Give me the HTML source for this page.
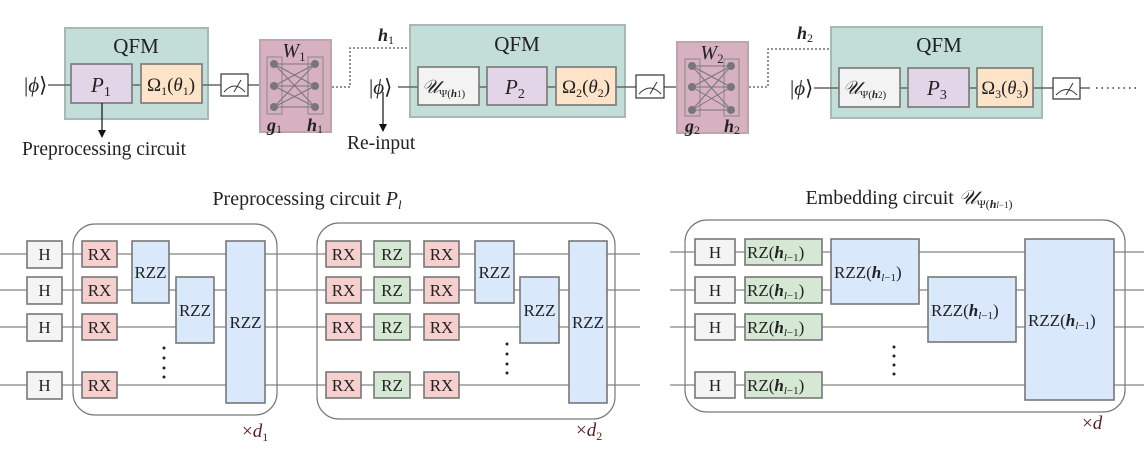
<!DOCTYPE html>
<html><head><meta charset="utf-8"><style>
html,body{margin:0;padding:0;background:#fff;}
svg{display:block;}
text{font-family:"Liberation Serif","DejaVu Serif",serif;fill:#222;}
.w{stroke:#999;stroke-width:1.6;fill:none;}
.g{stroke:#777;stroke-width:1.6;}
</style></head><body>
<svg width="1144" height="458" viewBox="0 0 1144 458" xmlns="http://www.w3.org/2000/svg">
<defs>
<marker id="ar" markerWidth="8" markerHeight="8" refX="7" refY="4" orient="auto" markerUnits="userSpaceOnUse"><path d="M0,0 L8,4 L0,8 z" fill="#111"/></marker>
<marker id="ar2" markerWidth="8" markerHeight="8" refX="7" refY="4" orient="auto" markerUnits="userSpaceOnUse"><path d="M0,0 L8,4 L0,8 z" fill="#5f7f7a"/></marker>
</defs>

<!-- stage 1 -->
<rect x="65" y="28" width="143" height="91" fill="#c3ddd9" stroke="#a8b8b5" stroke-width="2"/>
<text x="136" y="53" font-size="21" text-anchor="middle">QFM</text>
<line x1="48" y1="85" x2="260" y2="85" stroke="#666" stroke-width="1.6"/>
<text x="24" y="92" font-size="21">|<tspan font-style="italic">ϕ</tspan>⟩</text>
<rect x="71" y="64" width="61" height="39" fill="#e2d5e8" class="g"/>
<text x="91" y="92" font-size="21" font-style="italic">P<tspan font-size="14" font-style="normal" dy="4">1</tspan></text>
<rect x="141" y="64" width="61" height="39" fill="#fde3c8" class="g"/>
<text x="171" y="91" font-size="19" text-anchor="middle">Ω<tspan font-size="12" dy="4">1</tspan><tspan dy="-4">(</tspan><tspan font-style="italic">θ</tspan><tspan font-size="12" dy="4">1</tspan><tspan dy="-4">)</tspan></text>
<rect x="221" y="74" width="27" height="22" fill="#fff" stroke="#333" stroke-width="1.2"/>
<path d="M224,92 Q234.5,80 245,92" fill="none" stroke="#333" stroke-width="1"/>
<line x1="234" y1="92" x2="241" y2="80" stroke="#333" stroke-width="1"/>
<line x1="102" y1="103" x2="102" y2="137" stroke="#111" stroke-width="1.2" marker-end="url(#ar)"/>
<text x="22" y="155" font-size="19.5">Preprocessing circuit</text>

<!-- W1 -->
<rect x="260" y="40" width="71" height="92" fill="#d8b1c1" stroke="#bda5b0" stroke-width="2"/>
<rect x="267" y="57" width="15" height="57" fill="none" stroke="#888" stroke-width="1"/>
<rect x="308" y="57" width="15" height="57" fill="none" stroke="#888" stroke-width="1"/>
<g stroke="#777" stroke-width="1">
<line x1="274" y1="64" x2="315" y2="64"/><line x1="274" y1="64" x2="315" y2="86"/><line x1="274" y1="64" x2="315" y2="107"/>
<line x1="274" y1="86" x2="315" y2="64"/><line x1="274" y1="86" x2="315" y2="86"/><line x1="274" y1="86" x2="315" y2="107"/>
<line x1="274" y1="107" x2="315" y2="64"/><line x1="274" y1="107" x2="315" y2="86"/><line x1="274" y1="107" x2="315" y2="107"/>
</g>
<g fill="#777"><circle cx="274" cy="64" r="4"/><circle cx="274" cy="86" r="4"/><circle cx="274" cy="107" r="4"/><circle cx="315" cy="64" r="4"/><circle cx="315" cy="86" r="4"/><circle cx="315" cy="107" r="4"/></g>
<text x="294" y="57" font-size="20" font-style="italic" text-anchor="middle">W<tspan font-size="13" font-style="normal" dy="4">1</tspan></text>
<text x="267" y="131" font-size="18" font-weight="bold" font-style="italic">g<tspan font-size="12" font-style="normal" font-weight="normal" dy="2">1</tspan></text>
<text x="307" y="131" font-size="18" font-weight="bold" font-style="italic">h<tspan font-size="12" font-style="normal" font-weight="normal" dy="2">1</tspan></text>
<path d="M332,87 H350 V48 H449 V64" fill="none" stroke="#555" stroke-width="1.3" stroke-dasharray="2,2" marker-end="url(#ar2)"/>
<text x="378" y="41" font-size="18" font-weight="bold" font-style="italic">h<tspan font-size="12" font-style="normal" font-weight="normal" dy="3">1</tspan></text>

<!-- stage 2 -->
<rect x="410" y="25" width="215" height="92" fill="#c3ddd9" stroke="#a8b8b5" stroke-width="2"/>
<text x="517" y="51" font-size="21" text-anchor="middle">QFM</text>
<line x1="398" y1="87" x2="677" y2="87" stroke="#666" stroke-width="1.6"/>
<text x="369" y="94" font-size="21">|<tspan font-style="italic">ϕ</tspan>⟩</text>
<line x1="383" y1="92" x2="383" y2="131" stroke="#111" stroke-width="1.2" marker-end="url(#ar)"/>
<text x="347" y="149" font-size="19.5">Re-input</text>
<rect x="418" y="67" width="61" height="38" fill="#f3f3f3" class="g"/>
<text x="422" y="93" font-size="19" font-style="italic">𝒰<tspan font-size="11" font-style="normal" dy="4">Ψ(<tspan font-weight="bold" font-style="italic">h</tspan><tspan font-size="9">1</tspan>)</tspan></text>
<rect x="487" y="67" width="60" height="38" fill="#e2d5e8" class="g"/>
<text x="505" y="94" font-size="21" font-style="italic">P<tspan font-size="14" font-style="normal" dy="4">2</tspan></text>
<rect x="556" y="67" width="60" height="38" fill="#fde3c8" class="g"/>
<text x="586" y="93" font-size="19" text-anchor="middle">Ω<tspan font-size="12" dy="4">2</tspan><tspan dy="-4">(</tspan><tspan font-style="italic">θ</tspan><tspan font-size="12" dy="4">2</tspan><tspan dy="-4">)</tspan></text>
<rect x="636" y="75" width="28" height="23" fill="#fff" stroke="#333" stroke-width="1.2"/>
<path d="M639,94 Q650,82 661,94" fill="none" stroke="#333" stroke-width="1"/>
<line x1="650" y1="94" x2="657" y2="82" stroke="#333" stroke-width="1"/>

<!-- W2 -->
<rect x="677" y="42" width="71" height="91" fill="#d8b1c1" stroke="#bda5b0" stroke-width="2"/>
<rect x="685" y="59" width="15" height="57" fill="none" stroke="#888" stroke-width="1"/>
<rect x="724" y="59" width="15" height="57" fill="none" stroke="#888" stroke-width="1"/>
<g stroke="#777" stroke-width="1">
<line x1="692" y1="66" x2="731" y2="66"/><line x1="692" y1="66" x2="731" y2="87"/><line x1="692" y1="66" x2="731" y2="110"/>
<line x1="692" y1="87" x2="731" y2="66"/><line x1="692" y1="87" x2="731" y2="87"/><line x1="692" y1="87" x2="731" y2="110"/>
<line x1="692" y1="110" x2="731" y2="66"/><line x1="692" y1="110" x2="731" y2="87"/><line x1="692" y1="110" x2="731" y2="110"/>
</g>
<g fill="#777"><circle cx="692" cy="66" r="4"/><circle cx="692" cy="87" r="4"/><circle cx="692" cy="110" r="4"/><circle cx="731" cy="66" r="4"/><circle cx="731" cy="87" r="4"/><circle cx="731" cy="110" r="4"/></g>
<text x="712" y="59" font-size="20" font-style="italic" text-anchor="middle">W<tspan font-size="13" font-style="normal" dy="4">2</tspan></text>
<text x="685" y="132" font-size="18" font-weight="bold" font-style="italic">g<tspan font-size="12" font-style="normal" font-weight="normal" dy="2">2</tspan></text>
<text x="724" y="132" font-size="18" font-weight="bold" font-style="italic">h<tspan font-size="12" font-style="normal" font-weight="normal" dy="2">2</tspan></text>
<path d="M749,87 H768 V49 H869 V66" fill="none" stroke="#555" stroke-width="1.3" stroke-dasharray="2,2" marker-end="url(#ar2)"/>
<text x="797" y="39" font-size="18" font-weight="bold" font-style="italic">h<tspan font-size="12" font-style="normal" font-weight="normal" dy="3">2</tspan></text>

<!-- stage 3 -->
<rect x="831" y="27" width="211" height="91" fill="#c3ddd9" stroke="#a8b8b5" stroke-width="2"/>
<text x="939" y="52" font-size="21" text-anchor="middle">QFM</text>
<line x1="814" y1="88" x2="1090" y2="88" stroke="#666" stroke-width="1.6"/>
<text x="790" y="95" font-size="21">|<tspan font-style="italic">ϕ</tspan>⟩</text>
<rect x="839" y="68" width="61" height="39" fill="#f3f3f3" class="g"/>
<text x="843" y="94" font-size="19" font-style="italic">𝒰<tspan font-size="11" font-style="normal" dy="4">Ψ(<tspan font-weight="bold" font-style="italic">h</tspan><tspan font-size="9">2</tspan>)</tspan></text>
<rect x="908" y="68" width="61" height="39" fill="#e2d5e8" class="g"/>
<text x="927" y="95" font-size="21" font-style="italic">P<tspan font-size="14" font-style="normal" dy="4">3</tspan></text>
<rect x="977" y="68" width="56" height="39" fill="#fde3c8" class="g"/>
<text x="1005" y="94" font-size="18.5" text-anchor="middle">Ω<tspan font-size="12" dy="4">3</tspan><tspan dy="-4">(</tspan><tspan font-style="italic">θ</tspan><tspan font-size="12" dy="4">3</tspan><tspan dy="-4">)</tspan></text>
<rect x="1053" y="78" width="27" height="21" fill="#fff" stroke="#333" stroke-width="1.2"/>
<path d="M1056,95 Q1066.5,84 1077,95" fill="none" stroke="#333" stroke-width="1"/>
<line x1="1066" y1="95" x2="1073" y2="83" stroke="#333" stroke-width="1"/>
<line x1="1096" y1="88" x2="1140" y2="88" stroke="#333" stroke-width="1.4" stroke-dasharray="1.5,4"/>

<!-- BOTTOM LEFT -->
<text x="307" y="205" font-size="20" text-anchor="middle">Preprocessing circuit <tspan font-style="italic">P<tspan font-size="13" dy="4">l</tspan></tspan></text>
<g class="w"><line x1="0" y1="254" x2="640" y2="254"/><line x1="0" y1="290" x2="640" y2="290"/><line x1="0" y1="327" x2="640" y2="327"/><line x1="0" y1="385" x2="640" y2="385"/></g>
<rect x="73" y="224" width="204" height="191" rx="22" fill="none" stroke="#777" stroke-width="1.2"/>
<rect x="317" y="223" width="298" height="196" rx="22" fill="none" stroke="#777" stroke-width="1.2"/>
<g font-size="17" text-anchor="middle">
<g fill="#f4f4f4" class="g"><rect x="27" y="241" width="35" height="27"/><rect x="27" y="277" width="35" height="27"/><rect x="27" y="314" width="35" height="27"/><rect x="27" y="372" width="35" height="27"/></g>
<text x="44.5" y="260">H</text><text x="44.5" y="296">H</text><text x="44.5" y="333">H</text><text x="44.5" y="391">H</text>
<g fill="#f6cfcf" class="g"><rect x="82" y="241" width="35" height="26"/><rect x="82" y="277" width="35" height="26"/><rect x="82" y="314" width="35" height="26"/><rect x="82" y="372" width="35" height="26"/></g>
<text x="99.5" y="260">RX</text><text x="99.5" y="296">RX</text><text x="99.5" y="333">RX</text><text x="99.5" y="391">RX</text>
<g fill="#dae8fc" class="g"><rect x="132" y="241" width="37" height="62"/><rect x="176" y="277" width="38" height="66"/><rect x="226" y="241" width="39" height="162"/></g>
<text x="150.5" y="278">RZZ</text><text x="195" y="316">RZZ</text><text x="245.5" y="328">RZZ</text>
<g fill="#f6cfcf" class="g"><rect x="326" y="241" width="35" height="26"/><rect x="326" y="277" width="35" height="26"/><rect x="326" y="314" width="35" height="26"/><rect x="326" y="372" width="35" height="26"/>
<rect x="424" y="241" width="35" height="26"/><rect x="424" y="277" width="35" height="26"/><rect x="424" y="314" width="35" height="26"/><rect x="424" y="372" width="35" height="26"/></g>
<g fill="#d5e8d4" class="g"><rect x="374" y="241" width="36" height="26"/><rect x="374" y="277" width="36" height="26"/><rect x="374" y="314" width="36" height="26"/><rect x="374" y="372" width="36" height="26"/></g>
<text x="343.5" y="260">RX</text><text x="343.5" y="296">RX</text><text x="343.5" y="333">RX</text><text x="343.5" y="391">RX</text>
<text x="392" y="260">RZ</text><text x="392" y="296">RZ</text><text x="392" y="333">RZ</text><text x="392" y="391">RZ</text>
<text x="441.5" y="260">RX</text><text x="441.5" y="296">RX</text><text x="441.5" y="333">RX</text><text x="441.5" y="391">RX</text>
<g fill="#dae8fc" class="g"><rect x="475" y="241" width="39" height="62"/><rect x="520" y="277" width="39" height="66"/><rect x="569" y="241" width="38" height="162"/></g>
<text x="494.5" y="278">RZZ</text><text x="539.5" y="316">RZZ</text><text x="588" y="328">RZZ</text>
</g>
<g fill="#222"><circle cx="164" cy="348" r="1.5"/><circle cx="164" cy="358" r="1.5"/><circle cx="164" cy="368" r="1.5"/><circle cx="164" cy="377" r="1.5"/>
<circle cx="507" cy="344" r="1.5"/><circle cx="507" cy="354" r="1.5"/><circle cx="507" cy="364" r="1.5"/><circle cx="507" cy="373" r="1.5"/></g>
<text x="242" y="437" font-size="19" style="fill:#5a1a1a">×<tspan font-style="italic">d</tspan><tspan font-size="12" dy="4">1</tspan></text>
<text x="576" y="436" font-size="19" style="fill:#5a1a1a">×<tspan font-style="italic">d</tspan><tspan font-size="12" dy="4">2</tspan></text>

<!-- BOTTOM RIGHT -->
<text x="909" y="204" font-size="20" text-anchor="middle">Embedding circuit  <tspan font-style="italic">𝒰</tspan><tspan font-size="12" dy="4">Ψ(<tspan font-weight="bold" font-style="italic">h</tspan><tspan font-size="9" font-style="italic">l</tspan><tspan font-size="9">−1</tspan>)</tspan></text>
<g class="w"><line x1="670" y1="252" x2="1144" y2="252"/><line x1="670" y1="290" x2="1144" y2="290"/><line x1="670" y1="327" x2="1144" y2="327"/><line x1="670" y1="385" x2="1144" y2="385"/></g>
<rect x="685" y="220" width="440" height="192" rx="22" fill="none" stroke="#777" stroke-width="1.2"/>
<g fill="#f4f4f4" class="g"><rect x="695" y="239" width="40" height="26"/><rect x="695" y="277" width="40" height="26"/><rect x="695" y="314" width="40" height="26"/><rect x="695" y="372" width="40" height="26"/></g>
<g font-size="17" text-anchor="middle"><text x="715" y="258">H</text><text x="715" y="296">H</text><text x="715" y="333">H</text><text x="715" y="391">H</text></g>
<g fill="#d5e8d4" class="g"><rect x="745" y="239" width="77" height="26"/><rect x="745" y="277" width="77" height="26"/><rect x="745" y="314" width="77" height="26"/><rect x="745" y="372" width="77" height="26"/></g>
<g font-size="17">
<text x="747" y="258">RZ(<tspan font-weight="bold" font-style="italic">h</tspan><tspan font-size="11" dy="3"><tspan font-style="italic">l</tspan>−1</tspan><tspan dy="-3">)</tspan></text>
<text x="747" y="296">RZ(<tspan font-weight="bold" font-style="italic">h</tspan><tspan font-size="11" dy="3"><tspan font-style="italic">l</tspan>−1</tspan><tspan dy="-3">)</tspan></text>
<text x="747" y="333">RZ(<tspan font-weight="bold" font-style="italic">h</tspan><tspan font-size="11" dy="3"><tspan font-style="italic">l</tspan>−1</tspan><tspan dy="-3">)</tspan></text>
<text x="747" y="391">RZ(<tspan font-weight="bold" font-style="italic">h</tspan><tspan font-size="11" dy="3"><tspan font-style="italic">l</tspan>−1</tspan><tspan dy="-3">)</tspan></text>
</g>
<g fill="#dae8fc" class="g"><rect x="831" y="239" width="88" height="65"/><rect x="928" y="277" width="88" height="65"/><rect x="1025" y="239" width="89" height="161"/></g>
<g font-size="17">
<text x="834" y="278">RZZ(<tspan font-weight="bold" font-style="italic">h</tspan><tspan font-size="11" dy="3"><tspan font-style="italic">l</tspan>−1</tspan><tspan dy="-3">)</tspan></text>
<text x="931" y="316">RZZ(<tspan font-weight="bold" font-style="italic">h</tspan><tspan font-size="11" dy="3"><tspan font-style="italic">l</tspan>−1</tspan><tspan dy="-3">)</tspan></text>
<text x="1028" y="326">RZZ(<tspan font-weight="bold" font-style="italic">h</tspan><tspan font-size="11" dy="3"><tspan font-style="italic">l</tspan>−1</tspan><tspan dy="-3">)</tspan></text>
</g>
<g fill="#222"><circle cx="894" cy="347" r="1.5"/><circle cx="894" cy="356" r="1.5"/><circle cx="894" cy="365" r="1.5"/><circle cx="894" cy="374" r="1.5"/></g>
<text x="1082" y="429" font-size="19" style="fill:#5a1a1a">×<tspan font-style="italic">d</tspan></text>
</svg>
</body></html>
